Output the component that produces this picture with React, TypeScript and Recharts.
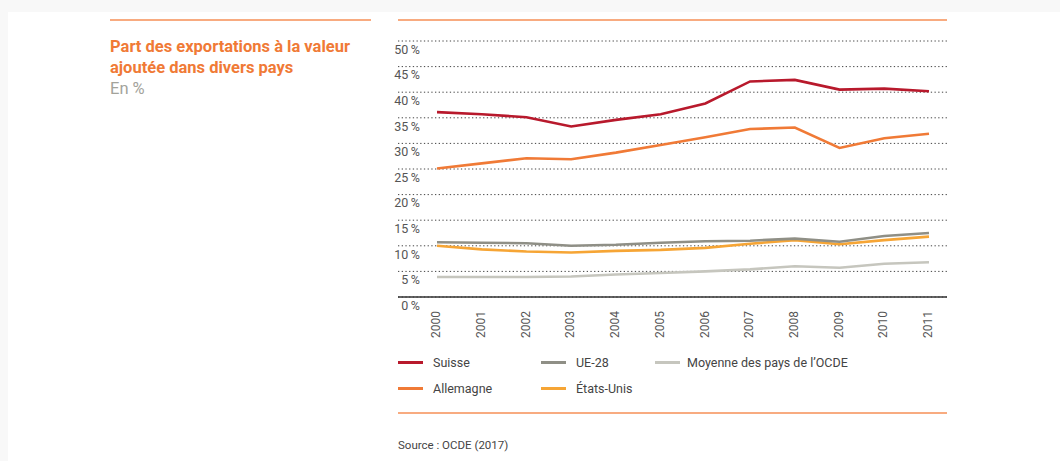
import React from "react";
import { LineChart, Line, XAxis, YAxis, CartesianGrid } from "recharts";

// ── Données ────────────────────────────────────────────────────────────────────
const years = ["2000", "2001", "2002", "2003", "2004", "2005", "2006", "2007", "2008", "2009", "2010", "2011"];
const suisse = [36.1, 35.7, 35.1, 33.3, 34.6, 35.7, 37.8, 42.1, 42.4, 40.5, 40.7, 40.2];
const allemagne = [25.1, 26.1, 27.1, 26.9, 28.2, 29.7, 31.2, 32.8, 33.1, 29.1, 31.0, 31.9];
const ue28 = [10.7, 10.6, 10.5, 10.0, 10.2, 10.6, 10.9, 11.0, 11.4, 10.8, 11.9, 12.5];
const etatsUnis = [10.0, 9.3, 8.9, 8.7, 9.0, 9.2, 9.6, 10.4, 11.1, 10.3, 11.1, 11.8];
const ocde = [3.9, 3.9, 3.9, 4.0, 4.4, 4.7, 5.0, 5.4, 6.0, 5.7, 6.5, 6.8];
const yTicks = [0, 5, 10, 15, 20, 25, 30, 35, 40, 45, 50];

const series = [
  { key: "suisse", name: "Suisse", color: "#b8192c" },
  { key: "allemagne", name: "Allemagne", color: "#f07a36" },
  { key: "ue28", name: "UE-28", color: "#8f8f86" },
  { key: "etatsUnis", name: "États-Unis", color: "#f6a535" },
  { key: "ocde", name: "Moyenne des pays de l’OCDE", color: "#c6c6be" },
];

const data = years.map((y, i) => ({
  year: y,
  suisse: suisse[i],
  allemagne: allemagne[i],
  ue28: ue28[i],
  etatsUnis: etatsUnis[i],
  ocde: ocde[i],
}));

// ── Mise en page ───────────────────────────────────────────────────────────────
const FONT = "Roboto, 'Open Sans', sans-serif";
const ORANGE = "#f07a36";
const RULE = "#f8ab80";
const PLOT_LEFT = 398;
const PLOT_RIGHT = 947;
const PLOT_TOP = 41;
const PLOT_BOTTOM = 297;
const W = 1060;
const H = 461;
const X_AXIS_H = 40;

function YTick({ y, payload }: { y?: number; payload?: { value: number } }) {
  return (
    <text x={PLOT_LEFT + 22} y={(y ?? 0) + 9.5} textAnchor="end" dominantBaseline="middle"
      style={{ fontSize: 12.5, fill: "#555", fontFamily: FONT }}>
      {payload?.value}{"\u2009"}%
    </text>
  );
}

function XTick({ x, payload }: { x?: number; payload?: { value: string } }) {
  const ty = PLOT_BOTTOM + 14;
  return (
    <text x={x} y={ty} transform={`rotate(-90 ${x} ${ty})`} textAnchor="end" dominantBaseline="middle"
      style={{ fontSize: 12, fill: "#555", fontFamily: FONT }}>
      {payload?.value}
    </text>
  );
}

const legendRows = [
  [series[0], series[2], series[4]],
  [series[1], series[3]],
];
const legendCols = [398, 541, 655];

export default function App() {
  return (
    <div style={{ position: "absolute", left: 0, top: 0, width: W, height: H, background: "#f8f8f8", overflow: "hidden", fontFamily: FONT }}>
      <div style={{ position: "absolute", left: 8, top: 12, width: W - 8, height: H - 12, background: "#fff" }} />
      {/* Filets orange */}
      <div style={{ position: "absolute", left: 110, top: 19, width: 261, height: 1.5, background: RULE }} />
      <div style={{ position: "absolute", left: PLOT_LEFT, top: 19, width: PLOT_RIGHT - PLOT_LEFT, height: 1.5, background: RULE }} />
      <div style={{ position: "absolute", left: PLOT_LEFT, top: 412, width: PLOT_RIGHT - PLOT_LEFT, height: 1.5, background: RULE }} />

      {/* Titre */}
      <div style={{ position: "absolute", left: 110, top: 36, fontSize: 16.5, lineHeight: "21px", color: ORANGE, fontWeight: 700 }}>
        Part des exportations à la valeur<br />ajoutée dans divers pays
      </div>
      <div style={{ position: "absolute", left: 110, top: 78, fontSize: 16.5, lineHeight: "21px", color: "#a3a39b" }}>
        En %
      </div>

      <div style={{ position: "absolute", left: 0, top: 0 }}>
        <LineChart width={W} height={H} data={data}
          margin={{ top: PLOT_TOP, right: W - PLOT_RIGHT, left: PLOT_LEFT, bottom: H - PLOT_BOTTOM - X_AXIS_H }}>
          <CartesianGrid vertical={false} stroke="#444" strokeDasharray="1.3 2.4" />
          <XAxis dataKey="year" height={X_AXIS_H} padding={{ left: 39, right: 18 }} tickLine={false}
            axisLine={{ stroke: "#333", strokeWidth: 1.5 }} tick={<XTick />} interval={0} />
          <YAxis domain={[0, 50]} ticks={yTicks} mirror axisLine={false} tickLine={false} tick={<YTick />} />
          {series.slice().reverse().map((s) => (
            <Line key={s.key} dataKey={s.key} name={s.name} stroke={s.color} strokeWidth={2.6}
              dot={false} type="linear" isAnimationActive={false} />
          ))}
        </LineChart>
      </div>

      {/* Légende */}
      {legendRows.map((row, r) =>
        row.map((s, c) => (
          <div key={s.key} style={{ position: "absolute", left: legendCols[c], top: 354 + r * 26, display: "flex", alignItems: "center", height: 16 }}>
            <div style={{ width: 25, height: 3, background: s.color }} />
            <span style={{ marginLeft: c === 2 ? 7 : 10, fontSize: 12.5, color: "#444" }}>{s.name}</span>
          </div>
        ))
      )}

      <div style={{ position: "absolute", left: PLOT_LEFT, top: 438, fontSize: 11.5, color: "#444" }}>
        Source : OCDE (2017)
      </div>
    </div>
  );
}
